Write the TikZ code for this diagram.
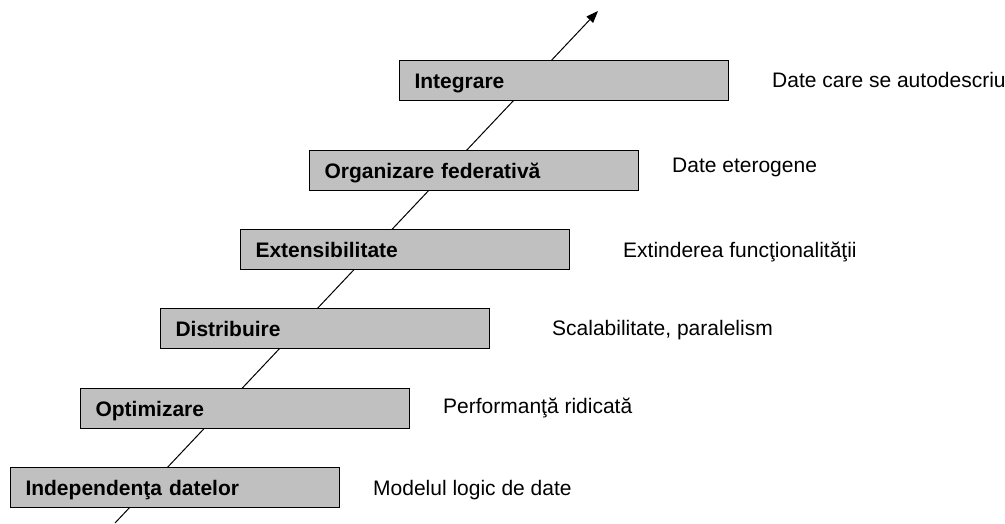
\documentclass[tikz,border=0pt]{standalone}
\usepackage{fontspec}
\setmainfont{Liberation Sans}
\usetikzlibrary{arrows.meta}

\tikzset{
  stage/.style={draw=black, line width=1pt, fill=boxgray, rectangle,
    anchor=north west, minimum width=329pt, minimum height=40pt,
    text width=299pt, inner xsep=15pt, inner ysep=0pt, align=left,
    text height=16pt, text depth=1pt,
    font=\fontsize{21pt}{25pt}\selectfont\bfseries},
  note/.style={anchor=base west, inner sep=0pt,
    font=\fontsize{21pt}{25pt}\selectfont},
  growth/.style={line width=1pt, -{Triangle[length=12pt,width=9pt]}}
}
\definecolor{boxgray}{HTML}{C0C0C0}

\begin{document}
\begin{tikzpicture}[x=1pt, y=-1pt]
  \useasboundingbox (0,0) rectangle (1005,523);

  % rising axis behind the stages
  \coordinate (start) at (115,523);
  \coordinate (tip) at (598,11);
  \draw[growth] (start) -- (tip);

  % stages
  \node[stage] (s1) at (10,467)  {Independenţa datelor};
  \node[stage] (s2) at (80,388)  {Optimizare};
  \node[stage] (s3) at (160,308) {Distribuire};
  \node[stage] (s4) at (240,229) {Extensibilitate};
  \node[stage] (s5) at (309,150) {Organizare federativă};
  \node[stage] (s6) at (399,60)  {Integrare};

  % what each stage brings
  \node[note] (n1) at (373,495) {Modelul logic de date};
  \node[note] (n2) at (443,413) {Performanţă ridicată};
  \node[note] (n3) at (552,335) {Scalabilitate, paralelism};
  \node[note] (n4) at (623,257) {Extinderea funcţionalităţii};
  \node[note] (n5) at (672,172) {Date eterogene};
  \node[note] (n6) at (772,87)  {Date care se autodescriu};
\end{tikzpicture}
\end{document}
